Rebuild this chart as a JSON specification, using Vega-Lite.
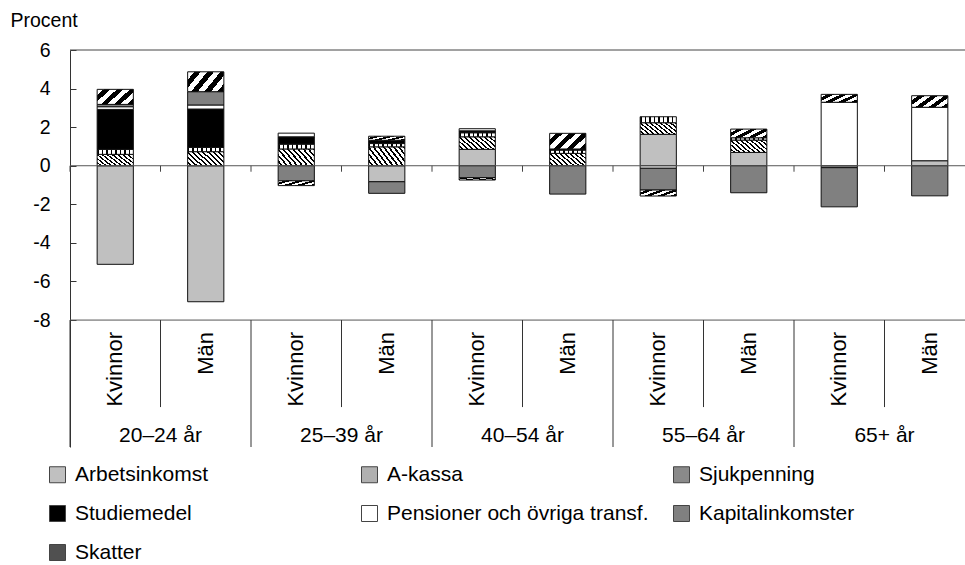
{
  "$schema": "https://vega.github.io/schema/vega-lite/v6.json",
  "autosize": {"type": "none"},
  "padding": {"left": 70, "top": 50, "right": 0, "bottom": 118},
  "width": 895,
  "height": 397,
  "config": {"view": {"stroke": null}, "font": "Liberation Sans"},
  "datasets": {
    "staplar": [
      {"kat": "20–24 år|Kvinnor", "serie": "Arbetsinkomst", "varde": -5.11},
      {"kat": "20–24 år|Kvinnor", "serie": "A-kassa", "varde": 0.59},
      {"kat": "20–24 år|Kvinnor", "serie": "Sjukpenning", "varde": 0.26},
      {"kat": "20–24 år|Kvinnor", "serie": "Studiemedel", "varde": 2.07},
      {"kat": "20–24 år|Kvinnor", "serie": "Pensioner och övriga transf.", "varde": 0.14},
      {"kat": "20–24 år|Kvinnor", "serie": "Kapitalinkomster", "varde": 0.12},
      {"kat": "20–24 år|Kvinnor", "serie": "Skatter", "varde": 0.78},
      {"kat": "20–24 år|Män", "serie": "Arbetsinkomst", "varde": -7.05},
      {"kat": "20–24 år|Män", "serie": "A-kassa", "varde": 0.73},
      {"kat": "20–24 år|Män", "serie": "Sjukpenning", "varde": 0.22},
      {"kat": "20–24 år|Män", "serie": "Studiemedel", "varde": 1.99},
      {"kat": "20–24 år|Män", "serie": "Pensioner och övriga transf.", "varde": 0.21},
      {"kat": "20–24 år|Män", "serie": "Kapitalinkomster", "varde": 0.69},
      {"kat": "20–24 år|Män", "serie": "Skatter", "varde": 1.03},
      {"kat": "25–39 år|Kvinnor", "serie": "A-kassa", "varde": 0.87},
      {"kat": "25–39 år|Kvinnor", "serie": "Sjukpenning", "varde": 0.25},
      {"kat": "25–39 år|Kvinnor", "serie": "Studiemedel", "varde": 0.38},
      {"kat": "25–39 år|Kvinnor", "serie": "Pensioner och övriga transf.", "varde": 0.19},
      {"kat": "25–39 år|Kvinnor", "serie": "Kapitalinkomster", "varde": -0.78},
      {"kat": "25–39 år|Kvinnor", "serie": "Skatter", "varde": -0.25},
      {"kat": "25–39 år|Män", "serie": "Arbetsinkomst", "varde": -0.83},
      {"kat": "25–39 år|Män", "serie": "A-kassa", "varde": 0.98},
      {"kat": "25–39 år|Män", "serie": "Sjukpenning", "varde": 0.17},
      {"kat": "25–39 år|Män", "serie": "Studiemedel", "varde": 0.17},
      {"kat": "25–39 år|Män", "serie": "Kapitalinkomster", "varde": -0.6},
      {"kat": "25–39 år|Män", "serie": "Skatter", "varde": 0.21},
      {"kat": "40–54 år|Kvinnor", "serie": "Arbetsinkomst", "varde": 0.85},
      {"kat": "40–54 år|Kvinnor", "serie": "A-kassa", "varde": 0.65},
      {"kat": "40–54 år|Kvinnor", "serie": "Sjukpenning", "varde": 0.21},
      {"kat": "40–54 år|Kvinnor", "serie": "Studiemedel", "varde": 0.1},
      {"kat": "40–54 år|Kvinnor", "serie": "Pensioner och övriga transf.", "varde": 0.11},
      {"kat": "40–54 år|Kvinnor", "serie": "Kapitalinkomster", "varde": -0.62},
      {"kat": "40–54 år|Kvinnor", "serie": "Skatter", "varde": -0.12},
      {"kat": "40–54 år|Män", "serie": "A-kassa", "varde": 0.64},
      {"kat": "40–54 år|Män", "serie": "Sjukpenning", "varde": 0.17},
      {"kat": "40–54 år|Män", "serie": "Studiemedel", "varde": 0.06},
      {"kat": "40–54 år|Män", "serie": "Kapitalinkomster", "varde": -1.47},
      {"kat": "40–54 år|Män", "serie": "Skatter", "varde": 0.81},
      {"kat": "55–64 år|Kvinnor", "serie": "Arbetsinkomst", "varde": 1.63},
      {"kat": "55–64 år|Kvinnor", "serie": "A-kassa", "varde": 0.6},
      {"kat": "55–64 år|Kvinnor", "serie": "Sjukpenning", "varde": 0.31},
      {"kat": "55–64 år|Kvinnor", "serie": "Pensioner och övriga transf.", "varde": -0.13},
      {"kat": "55–64 år|Kvinnor", "serie": "Kapitalinkomster", "varde": -1.13},
      {"kat": "55–64 år|Kvinnor", "serie": "Skatter", "varde": -0.31},
      {"kat": "55–64 år|Män", "serie": "Arbetsinkomst", "varde": 0.69},
      {"kat": "55–64 år|Män", "serie": "A-kassa", "varde": 0.64},
      {"kat": "55–64 år|Män", "serie": "Sjukpenning", "varde": 0.12},
      {"kat": "55–64 år|Män", "serie": "Kapitalinkomster", "varde": -1.4},
      {"kat": "55–64 år|Män", "serie": "Skatter", "varde": 0.45},
      {"kat": "65+ år|Kvinnor", "serie": "Arbetsinkomst", "varde": -0.1},
      {"kat": "65+ år|Kvinnor", "serie": "Pensioner och övriga transf.", "varde": 3.29},
      {"kat": "65+ år|Kvinnor", "serie": "Kapitalinkomster", "varde": -2.03},
      {"kat": "65+ år|Kvinnor", "serie": "Skatter", "varde": 0.41},
      {"kat": "65+ år|Män", "serie": "Arbetsinkomst", "varde": 0.26},
      {"kat": "65+ år|Män", "serie": "Pensioner och övriga transf.", "varde": 2.77},
      {"kat": "65+ år|Män", "serie": "Kapitalinkomster", "varde": -1.56},
      {"kat": "65+ år|Män", "serie": "Skatter", "varde": 0.6}
    ],
    "kategorier": [
      {"kat": "20–24 år|Kvinnor", "grupp": "20–24 år", "kon": "Kvinnor"},
      {"kat": "20–24 år|Män", "grupp": "20–24 år", "kon": "Män"},
      {"kat": "25–39 år|Kvinnor", "grupp": "25–39 år", "kon": "Kvinnor"},
      {"kat": "25–39 år|Män", "grupp": "25–39 år", "kon": "Män"},
      {"kat": "40–54 år|Kvinnor", "grupp": "40–54 år", "kon": "Kvinnor"},
      {"kat": "40–54 år|Män", "grupp": "40–54 år", "kon": "Män"},
      {"kat": "55–64 år|Kvinnor", "grupp": "55–64 år", "kon": "Kvinnor"},
      {"kat": "55–64 år|Män", "grupp": "55–64 år", "kon": "Män"},
      {"kat": "65+ år|Kvinnor", "grupp": "65+ år", "kon": "Kvinnor"},
      {"kat": "65+ år|Män", "grupp": "65+ år", "kon": "Män"}
    ]
  },
  "layer": [
    {
      "data": {"name": "kategorier"},
      "transform": [{"aggregate": [{"op": "count", "as": "n"}]}],
      "mark": {"type": "rule", "color": "#444", "strokeWidth": 1},
      "encoding": {"y": {"datum": 6}}
    },
    {
      "data": {"name": "kategorier"},
      "transform": [{"aggregate": [{"op": "count", "as": "n"}]}],
      "mark": {"type": "rule", "color": "#555", "strokeWidth": 1},
      "encoding": {"y": {"datum": -8}}
    },
    {
      "data": {"name": "staplar"},
      "transform": [
        {"calculate": "indexof(['Arbetsinkomst','A-kassa','Sjukpenning','Studiemedel','Pensioner och övriga transf.','Kapitalinkomster','Skatter'], datum.serie)", "as": "ordning"}
      ],
      "mark": {"type": "bar", "width": {"band": 0.4}, "stroke": "#111", "strokeWidth": 1},
      "encoding": {
        "x": {
          "field": "kat", "type": "nominal", "axis": null,
          "scale": {
            "domain": ["20–24 år|Kvinnor", "20–24 år|Män", "25–39 år|Kvinnor", "25–39 år|Män", "40–54 år|Kvinnor", "40–54 år|Män", "55–64 år|Kvinnor", "55–64 år|Män", "65+ år|Kvinnor", "65+ år|Män"],
            "range": [0, 905],
            "paddingInner": 0, "paddingOuter": 0
          }
        },
        "y": {
          "field": "varde", "type": "quantitative", "aggregate": "sum", "stack": "zero",
          "scale": {"domain": [-14.58, 6], "nice": false, "zero": false},
          "axis": {
            "title": "Procent", "titleAngle": 0, "titleAlign": "left", "titleBaseline": "alphabetic",
            "titleX": -60, "titleY": -24, "titleFontSize": 19.5, "titleFontWeight": "normal", "titleColor": "#000",
            "values": [-8, -6, -4, -2, 0, 2, 4, 6], "grid": false,
            "tickSize": -6, "tickColor": "#333", "domainColor": "#333",
            "labelFontSize": 19.5, "labelColor": "#000", "labelPadding": 26, "labelExpr": "'' + datum.value"
          }
        },
        "order": {"field": "ordning", "type": "quantitative"},
        "fill": {
          "field": "serie", "type": "nominal",
          "scale": {
            "domain": ["Arbetsinkomst", "A-kassa", "Sjukpenning", "Studiemedel", "Pensioner och övriga transf.", "Kapitalinkomster", "Skatter"],
            "range": ["#c0c0c0", "#b0b0b0", "#8a8a8a", "#000000", "#ffffff", "#808080", "#505050"]
          },
          "condition": [
            {"test": "datum.serie === 'A-kassa'", "value": {"gradient": "linear", "x1": 0, "y1": 1, "x2": 1.207, "y2": 0.517, "stops": [
              {"offset": 0, "color": "#fff"}, {"offset": 0.06, "color": "#fff"}, {"offset": 0.06, "color": "#000"}, {"offset": 0.1, "color": "#000"},
              {"offset": 0.1, "color": "#fff"}, {"offset": 0.16, "color": "#fff"}, {"offset": 0.16, "color": "#000"}, {"offset": 0.2, "color": "#000"},
              {"offset": 0.2, "color": "#fff"}, {"offset": 0.26, "color": "#fff"}, {"offset": 0.26, "color": "#000"}, {"offset": 0.3, "color": "#000"},
              {"offset": 0.3, "color": "#fff"}, {"offset": 0.36, "color": "#fff"}, {"offset": 0.36, "color": "#000"}, {"offset": 0.4, "color": "#000"},
              {"offset": 0.4, "color": "#fff"}, {"offset": 0.46, "color": "#fff"}, {"offset": 0.46, "color": "#000"}, {"offset": 0.5, "color": "#000"},
              {"offset": 0.5, "color": "#fff"}, {"offset": 0.56, "color": "#fff"}, {"offset": 0.56, "color": "#000"}, {"offset": 0.6, "color": "#000"},
              {"offset": 0.6, "color": "#fff"}, {"offset": 0.66, "color": "#fff"}, {"offset": 0.66, "color": "#000"}, {"offset": 0.7, "color": "#000"},
              {"offset": 0.7, "color": "#fff"}, {"offset": 0.76, "color": "#fff"}, {"offset": 0.76, "color": "#000"}, {"offset": 0.8, "color": "#000"},
              {"offset": 0.8, "color": "#fff"}, {"offset": 0.86, "color": "#fff"}, {"offset": 0.86, "color": "#000"}, {"offset": 0.9, "color": "#000"},
              {"offset": 0.9, "color": "#fff"}, {"offset": 0.96, "color": "#fff"}, {"offset": 0.96, "color": "#000"}, {"offset": 1, "color": "#000"}
            ]}},
            {"test": "datum.serie === 'Sjukpenning'", "value": {"gradient": "linear", "x1": 0, "y1": 0, "x2": 1, "y2": 0, "stops": [
              {"offset": 0, "color": "#000"}, {"offset": 0.044, "color": "#000"}, {"offset": 0.044, "color": "#fff"}, {"offset": 0.125, "color": "#fff"},
              {"offset": 0.125, "color": "#000"}, {"offset": 0.169, "color": "#000"}, {"offset": 0.169, "color": "#fff"}, {"offset": 0.25, "color": "#fff"},
              {"offset": 0.25, "color": "#000"}, {"offset": 0.294, "color": "#000"}, {"offset": 0.294, "color": "#fff"}, {"offset": 0.375, "color": "#fff"},
              {"offset": 0.375, "color": "#000"}, {"offset": 0.419, "color": "#000"}, {"offset": 0.419, "color": "#fff"}, {"offset": 0.5, "color": "#fff"},
              {"offset": 0.5, "color": "#000"}, {"offset": 0.544, "color": "#000"}, {"offset": 0.544, "color": "#fff"}, {"offset": 0.625, "color": "#fff"},
              {"offset": 0.625, "color": "#000"}, {"offset": 0.669, "color": "#000"}, {"offset": 0.669, "color": "#fff"}, {"offset": 0.75, "color": "#fff"},
              {"offset": 0.75, "color": "#000"}, {"offset": 0.794, "color": "#000"}, {"offset": 0.794, "color": "#fff"}, {"offset": 0.875, "color": "#fff"},
              {"offset": 0.875, "color": "#000"}, {"offset": 0.919, "color": "#000"}, {"offset": 0.919, "color": "#fff"}, {"offset": 1, "color": "#fff"}
            ]}},
            {"test": "datum.serie === 'Skatter'", "value": {"gradient": "linear", "x1": 0, "y1": 0, "x2": 1.206, "y2": 0.543, "stops": [
              {"offset": 0, "color": "#fff"}, {"offset": 0.125, "color": "#fff"}, {"offset": 0.125, "color": "#000"}, {"offset": 0.25, "color": "#000"},
              {"offset": 0.25, "color": "#fff"}, {"offset": 0.375, "color": "#fff"}, {"offset": 0.375, "color": "#000"}, {"offset": 0.5, "color": "#000"},
              {"offset": 0.5, "color": "#fff"}, {"offset": 0.625, "color": "#fff"}, {"offset": 0.625, "color": "#000"}, {"offset": 0.75, "color": "#000"},
              {"offset": 0.75, "color": "#fff"}, {"offset": 0.875, "color": "#fff"}, {"offset": 0.875, "color": "#000"}, {"offset": 1, "color": "#000"}
            ]}}
          ],
          "legend": {
            "title": null, "orient": "none", "legendX": -23, "legendY": 414, "padding": 0,
            "direction": "horizontal", "columns": 3, "gridAlign": "all", "columnPadding": 22, "rowPadding": 17,
            "symbolType": "square", "symbolSize": 256, "symbolStrokeColor": "#444", "symbolStrokeWidth": 1,
            "labelFontSize": 21, "labelColor": "#000", "labelOffset": 7, "labelLimit": 400,
            "encode": {
              "symbols": {
                "update": {
                  "stroke": {"value": "#444"},
                  "strokeWidth": {"value": 1}
                }
              }
            }
          }
        }
      }
    },
    {
      "data": {"name": "kategorier"},
      "transform": [{"aggregate": [{"op": "count", "as": "n"}]}],
      "mark": {"type": "rule", "color": "#555", "strokeWidth": 1},
      "encoding": {"y": {"datum": 0}}
    },
    {
      "data": {"name": "kategorier"},
      "mark": {"type": "rule", "color": "#444", "strokeWidth": 1},
      "encoding": {
        "x": {"field": "kat", "type": "nominal", "bandPosition": 0, "axis": null},
        "y": {"datum": 0},
        "y2": {"datum": -0.31}
      }
    },
    {
      "data": {"name": "kategorier"},
      "transform": [{"filter": "datum.kon === 'Män'"}],
      "mark": {"type": "rule", "color": "#333", "strokeWidth": 1},
      "encoding": {
        "x": {"field": "kat", "type": "nominal", "bandPosition": 0, "axis": null},
        "y": {"datum": -8},
        "y2": {"datum": -12.51}
      }
    },
    {
      "data": {"name": "kategorier"},
      "transform": [{"filter": "datum.kon === 'Kvinnor'"}],
      "mark": {"type": "rule", "color": "#333", "strokeWidth": 1},
      "encoding": {
        "x": {"field": "kat", "type": "nominal", "bandPosition": 0, "axis": null},
        "y": {"datum": -8},
        "y2": {"datum": -14.58}
      }
    },
    {
      "data": {"name": "kategorier"},
      "mark": {"type": "text", "angle": 270, "align": "right", "baseline": "middle", "fontSize": 22, "color": "#000"},
      "encoding": {
        "x": {"field": "kat", "type": "nominal", "axis": null},
        "y": {"datum": -8.62},
        "text": {"field": "kon"}
      }
    },
    {
      "data": {"name": "kategorier"},
      "transform": [{"filter": "datum.kon === 'Män'"}],
      "mark": {"type": "text", "align": "center", "baseline": "alphabetic", "fontSize": 21, "color": "#000"},
      "encoding": {
        "x": {"field": "kat", "type": "nominal", "bandPosition": 0, "axis": null},
        "y": {"datum": -14.32},
        "text": {"field": "grupp"}
      }
    }
  ]
}
